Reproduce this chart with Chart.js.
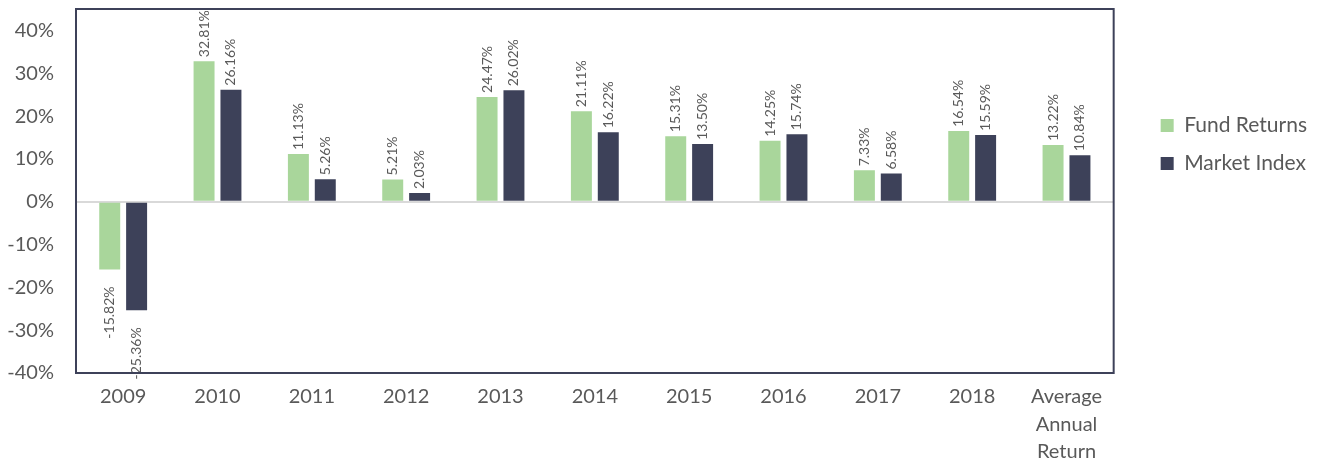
<!DOCTYPE html>
<html>
<head>
<meta charset="utf-8">
<script src="https://cdn.jsdelivr.net/npm/chart.js@4/dist/chart.umd.min.js"></script>
<style>
  html, body { margin: 0; padding: 0; background: #fff; }
  #wrap { width: 1317px; height: 462px; }
</style>
</head>
<body>
<div id="wrap"><canvas id="myChart1"></canvas></div>
<script>
var years = ["2009", "2010", "2011", "2012", "2013", "2014", "2015", "2016", "2017", "2018", ["Average", "Annual", "Return"]];
var fundReturns = [-15.82, 32.81, 11.13, 5.21, 24.47, 21.11, 15.31, 14.25, 7.33, 16.54, 13.22];
var marketIndex = [-25.36, 26.16, 5.26, 2.03, 26.02, 16.22, 13.50, 15.74, 6.58, 15.59, 10.84];
var yTicks = [-40, -30, -20, -10, 0, 10, 20, 30, 40];

var navy = "#3d4159";
var green = "#a9d69b";
var grey = "#595959";
var font = "Lato, 'Open Sans', sans-serif";

// box round the plot area
var frame = {
  id: "frame",
  afterDraw: function (chart) {
    var a = chart.chartArea, ctx = chart.ctx;
    ctx.save();
    ctx.strokeStyle = navy;
    ctx.lineWidth = 2;
    ctx.strokeRect(a.left, a.top, a.right - a.left, a.bottom - a.top);
    ctx.restore();
  }
};

// rotated value labels
var valueLabels = {
  id: "valueLabels",
  afterDatasetsDraw: function (chart) {
    var ctx = chart.ctx;
    ctx.save();
    ctx.font = "14px " + font;
    ctx.fillStyle = grey;
    ctx.textBaseline = "middle";
    chart.data.datasets.forEach(function (ds, i) {
      chart.getDatasetMeta(i).data.forEach(function (bar, j) {
        var v = ds.data[j];
        var txt = v.toFixed(2) + "%";
        ctx.save();
        if (v >= 0) {
          ctx.translate(bar.x, bar.y - 4);
          ctx.rotate(-Math.PI / 2);
          ctx.textAlign = "left";
        } else {
          ctx.translate(bar.x, bar.y + 17);
          ctx.rotate(-Math.PI / 2);
          ctx.textAlign = "right";
        }
        ctx.fillText(txt, 0, 0);
        ctx.restore();
      });
    });
    ctx.restore();
  }
};

// move legend to where it sits in the picture
var legendShift = {
  id: "legendShift",
  afterLayout: function (chart) {
    var l = chart.legend;
    l.left = chart.chartArea.right + 30;
    l.right = chart.width;
    l.top += 89; l.bottom += 89;
  }
};

var ctx = document.getElementById('myChart1').getContext('2d');
var myChart = new Chart(ctx, {
  type: 'bar',
  data: {
    labels: years,
    datasets: [{
      label: "Fund Returns",
      data: fundReturns,
      backgroundColor: green,
      categoryPercentage: 0.57,
      barPercentage: 0.78
    }, {
      label: "Market Index",
      data: marketIndex,
      backgroundColor: navy,
      categoryPercentage: 0.57,
      barPercentage: 0.78
    }]
  },
  options: {
    responsive: true,
    maintainAspectRatio: false,
    animation: false,
    layout: { padding: { top: 9, left: 0, right: 30, bottom: 0 } },
    plugins: {
      tooltip: { enabled: false },
      legend: {
        position: 'right',
        align: 'start',
        labels: {
          boxWidth: 13,
          boxHeight: 13,
          padding: 17,
          color: grey,
          font: { family: font, size: 21 }
        }
      }
    },
    scales: {
      x: {
        grid: { display: false },
        border: { display: false },
        afterFit: function (s) { s.height = 89; s.paddingLeft = 0; s.paddingRight = 0; },
        ticks: {
          color: grey,
          font: { family: font, size: 20, lineHeight: 1.38 },
          padding: 2,
          maxRotation: 0,
          autoSkip: false
        }
      },
      y: {
        min: -40,
        max: 45,
        afterBuildTicks: function (scale) {
          scale.ticks = yTicks.map(function (v) { return { value: v }; });
        },
        afterFit: function (s) { s.width = 76; s.paddingTop = 0; s.paddingBottom = 0; },
        grid: {
          drawTicks: false,
          lineWidth: 2,
          color: function (c) { return c.tick && c.tick.value === 0 ? '#d9d9d9' : 'transparent'; }
        },
        border: { display: false },
        ticks: {
          color: grey,
          font: { family: font, size: 20 },
          padding: 22,
          callback: function (v) { return v + '%'; }
        }
      }
    }
  },
  plugins: [frame, valueLabels, legendShift]
});
</script>
</body>
</html>
